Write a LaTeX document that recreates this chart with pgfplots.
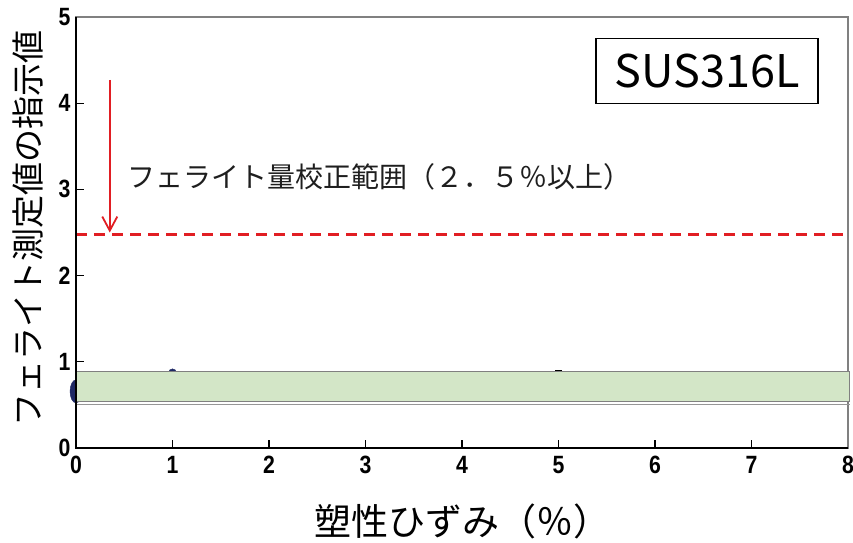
\documentclass[border=0pt]{standalone}
\usepackage{fontspec}
\usepackage{pgfplots}
\pgfplotsset{compat=1.18}
\usetikzlibrary{arrows.meta}
\newfontfamily\cjk{Noto Sans CJK JP}
\newfontfamily\tickfont[FakeStretch=0.85]{Liberation Sans}
\definecolor{bandgreen}{RGB}{211,230,199}
\definecolor{bandedge}{RGB}{128,128,128}
\definecolor{navy}{RGB}{30,40,100}
\definecolor{refred}{RGB}{225,30,35}

\begin{document}
\begin{tikzpicture}
\path[use as bounding box] (-76pt,-94pt) rectangle (777pt,448pt);
\begin{axis}[
  at={(0,0)}, anchor=south west, scale only axis,
  width=772pt, height=431pt,
  xmin=0, xmax=8, ymin=0, ymax=5,
  xtick={0,...,8}, ytick={0,...,5},
  tick pos=left, tick align=inside, major tick length=8pt,
  tick style={black, line width=1.2pt},
  axis line style={gray, line width=1.2pt},
  /pgf/number format/assume math mode=true,
  ticklabel style={font=\tickfont\bfseries\fontsize{25}{25}\selectfont},
  xticklabel style={yshift=-5pt},
  yticklabel style={xshift=-2pt},
  xlabel={塑性ひずみ（％）},
  xlabel style={font=\cjk\fontsize{37}{37}\selectfont, at={(axis description cs:0.500,-0.170)}, anchor=center},
  ylabel={フェライト測定値の指示値},
  ylabel style={font=\cjk\fontsize{33}{33}\selectfont, at={(axis description cs:-0.062,0.51)}, rotate=0, anchor=center},
  clip=false, clip mode=individual,
]
% measured indications (mostly hidden behind the band)
\addplot[only marks, mark=*, navy, mark size=11.5pt, mark options={xscale=0.52}] coordinates {(0,0.657)};
\addplot[only marks, mark=*, navy, mark size=4pt] coordinates {(1,0.872)};
\addplot[only marks, mark=-, black, mark size=3.5pt, mark options={line width=1.5pt}] coordinates {(5,0.897)};
% band
\addplot[fill=bandgreen, draw=bandedge, line width=1pt] coordinates {(0,0.54) (8.02,0.54) (8.02,0.884) (0,0.884)} -- cycle;
\addplot[color={rgb,255:red,150;green,150;blue,150}, line width=1.8pt] coordinates {(0,0.505) (8.02,0.505)};
% calibration limit
\addplot[refred, line width=2.6pt, dash pattern=on 11pt off 7pt] coordinates {(0,2.48) (8.02,2.48)};
\draw[refred, line width=1.8pt, -{Straight Barb[length=14pt,width=15pt,line width=1.8pt]}] (axis cs:0.35,4.27) -- (axis cs:0.35,2.50);
\node[anchor=west, font=\cjk\fontsize{28}{28}\selectfont, text={rgb,255:red,30;green,30;blue,30}] at (axis cs:0.50,3.14) {フェライト量校正範囲（２．５％以上）};
\node[draw, line width=1.3pt, minimum width=222pt, minimum height=65pt, inner sep=0pt, font=\cjk\fontsize{45}{45}\selectfont] at (axis cs:6.54,4.37) {SUS316L};
\draw[black, line width=2pt] (rel axis cs:0,1) -- (rel axis cs:0,0) -- (rel axis cs:1,0);
\end{axis}
\end{tikzpicture}
\end{document}
